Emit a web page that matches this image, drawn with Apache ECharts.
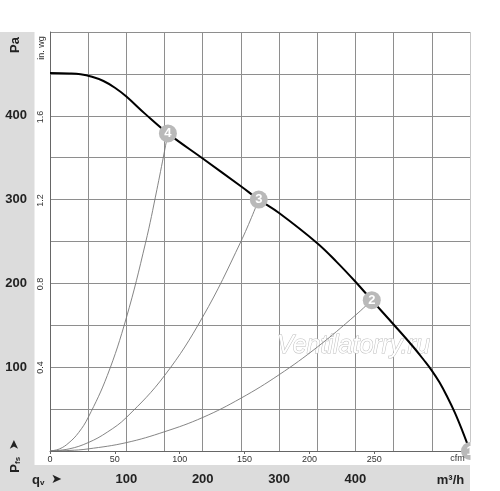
<!DOCTYPE html>
<html><head><meta charset="utf-8">
<script src="https://cdn.jsdelivr.net/npm/echarts@6/dist/echarts.min.js"></script>
<style>html,body{margin:0;padding:0;background:#fff}#c{width:500px;height:491px}</style>
</head><body><div id="c"></div>
<script>
// ---- data ----
const flowTicks = [100, 200, 300, 400];            // m³/h labels
const cfmTicks = [0, 50, 100, 150, 200, 250];      // cfm labels
const paTicks = [100, 200, 300, 400];              // Pa labels
const inwgTicks = [0.4, 0.8, 1.2, 1.6];            // in. wg labels

const mainQ = [0, 25, 40, 55, 70, 85, 100, 125, 154.4, 200, 250, 273.4, 300, 350, 375, 400, 421.4, 450, 475, 490, 500, 510, 520, 530, 540, 550];
const mainP = [451, 450.5, 449.5, 446.5, 441.5, 433.5, 423, 402, 379, 349, 316, 300, 284, 248, 226, 202, 180, 151, 125, 108, 96, 82, 65, 46, 24, 0];

const sys4Q = [0, 12.5, 25, 37.5, 50, 75, 100, 125, 140, 154.4];
const sys4P = [0, 2.5, 10, 22, 40, 90, 159, 248, 312, 379];
const sys3Q = [0, 25, 50, 75, 100, 150, 200, 250, 273.4];
const sys3P = [0, 2.5, 10, 22.5, 40, 90, 160, 250, 300];
const sys2Q = [0, 25, 50, 100, 150, 200, 250, 300, 350, 400, 421.4];
const sys2P = [0, 0.6, 2.5, 10, 23, 40, 63, 91, 124, 162, 180];

const pointQ = [154.4, 273.4, 421.4, 550];
const pointP = [379, 300, 180, 0];
const pointLabels = ['4', '3', '2', '1'];

const M3H_PER_CFM = 1.699;
const PA_PER_INWG = 249.089;
const FF = 'Liberation Sans, Arial, Helvetica, sans-serif';

const zip = (a, b) => a.map((v, i) => [v, b[i]]);

const chart = echarts.init(document.getElementById('c'), null, {renderer: 'canvas'});
const gridColor = '#8e8e8e';

chart.setOption({
  animation: false,
  grid: {left: 50, right: 30, top: 32, bottom: 40, containLabel: false},
  xAxis: [
    {
      type: 'value', min: 0, max: 550, interval: 50, position: 'bottom',
      axisLine: {show: true, lineStyle: {color: '#666', width: 1}},
      axisTick: {show: false},
      splitLine: {show: true, lineStyle: {color: gridColor, width: 1}},
      axisLabel: {
        margin: 22, fontFamily: FF, fontWeight: 'bold', fontSize: 13, color: '#222',
        formatter: v => flowTicks.includes(v) ? String(v) : ''
      }
    },
    {
      type: 'value', min: 0, max: 550 / M3H_PER_CFM, position: 'bottom',
      axisLine: {show: false},
      axisTick: {show: true, length: 3, inside: false, lineStyle: {color: '#666'}, customValues: cfmTicks},
      splitLine: {show: false},
      axisLabel: {customValues: cfmTicks, margin: 4, fontFamily: FF, fontSize: 9, color: '#333'}
    }
  ],
  yAxis: [
    {
      type: 'value', min: 0, max: 500, interval: 50, position: 'left',
      axisLine: {show: true, lineStyle: {color: '#666', width: 1}},
      axisTick: {show: false},
      splitLine: {show: true, lineStyle: {color: gridColor, width: 1}},
      axisLabel: {
        margin: 23, fontFamily: FF, fontWeight: 'bold', fontSize: 13, color: '#222',
        formatter: v => paTicks.includes(v) ? String(v) : ''
      }
    },
    {
      type: 'value', min: 0, max: 500 / PA_PER_INWG, position: 'left',
      axisLine: {show: false}, axisTick: {show: false}, splitLine: {show: false},
      axisLabel: {customValues: inwgTicks, rotate: 90, margin: 5, fontFamily: FF, fontSize: 9, color: '#333',
        formatter: v => Number(v).toFixed(1)}
    }
  ],
  series: [
    {type: 'line', data: zip(sys4Q, sys4P), smooth: 0.4, showSymbol: false,
     lineStyle: {color: '#777', width: 0.9}, z: 3},
    {type: 'line', data: zip(sys3Q, sys3P), smooth: 0.4, showSymbol: false,
     lineStyle: {color: '#777', width: 0.9}, z: 3},
    {type: 'line', data: zip(sys2Q, sys2P), smooth: 0.4, showSymbol: false,
     lineStyle: {color: '#777', width: 0.9}, z: 3},
    {type: 'line', data: zip(mainQ, mainP), smooth: 0.4, showSymbol: false,
     lineStyle: {color: '#000', width: 2}, z: 4},
    {type: 'scatter', data: pointQ.map((q, i) => ({value: [q, pointP[i]], name: pointLabels[i]})),
     symbol: 'circle', symbolSize: 18, clip: false,
     itemStyle: {color: '#b9b9b9', opacity: 1},
     label: {show: true, position: 'inside', formatter: p => p.name, color: '#fff', fontFamily: FF, fontWeight: 'bold', fontSize: 13},
     emphasis: {disabled: true},
     z: 6}
  ],
  graphic: [
    {type: 'rect', silent: true, z: -1, shape: {x: 0, y: 32, width: 34.5, height: 459}, style: {fill: '#dcdcdc'}},
    {type: 'rect', silent: true, z: -1, shape: {x: 0, y: 465, width: 470, height: 26}, style: {fill: '#dcdcdc'}},
    {type: 'text', silent: true, z: 1, x: 277, y: 346,
     style: {text: 'Ventilatorry.ru', font: 'italic 25px ' + FF, fill: '#ffffff', stroke: '#bdbdbd', lineWidth: 1, align: 'left', verticalAlign: 'middle'}},
    {type: 'text', silent: true, z: 10, x: 15, y: 45, rotation: Math.PI / 2,
     style: {text: 'Pa', font: 'bold 13px ' + FF, fill: '#222', align: 'center', verticalAlign: 'middle'}},
    {type: 'text', silent: true, z: 10, x: 42, y: 48, rotation: Math.PI / 2,
     style: {text: 'in. wg', font: '9px ' + FF, fill: '#333', align: 'center', verticalAlign: 'middle'}},
    {type: 'text', silent: true, z: 10, x: 15, y: 456, rotation: Math.PI / 2,
     style: {text: '{p|P}{s|fs}  {a|➤}', align: 'center', verticalAlign: 'middle',
       rich: {p: {fontFamily: FF, fontWeight: 'bold', fontSize: 13, fill: '#222'},
              s: {fontFamily: FF, fontWeight: 'bold', fontSize: 8, fill: '#222', verticalAlign: 'bottom'},
              a: {fontFamily: 'DejaVu Sans', fontSize: 13, fill: '#222'}}}},
    {type: 'text', silent: true, z: 10, x: 47, y: 480,
     style: {text: '{p|q}{s|v}  {a|➤}', align: 'center', verticalAlign: 'middle',
       rich: {p: {fontFamily: FF, fontWeight: 'bold', fontSize: 13, fill: '#222'},
              s: {fontFamily: FF, fontWeight: 'bold', fontSize: 8, fill: '#222', verticalAlign: 'bottom'},
              a: {fontFamily: 'DejaVu Sans', fontSize: 13, fill: '#222'}}}},
    {type: 'text', silent: true, z: 10, x: 450.5, y: 480,
     style: {text: 'm³/h', font: 'bold 13px ' + FF, fill: '#222', align: 'center', verticalAlign: 'middle'}},
    {type: 'text', silent: true, z: 10, x: 457.5, y: 459,
     style: {text: 'cfm', font: '9px ' + FF, fill: '#333', align: 'center', verticalAlign: 'middle'}},
    {type: 'rect', silent: true, z: 100, shape: {x: 470.5, y: 0, width: 30, height: 491}, style: {fill: '#fff'}}
  ]
});
</script></body></html>
